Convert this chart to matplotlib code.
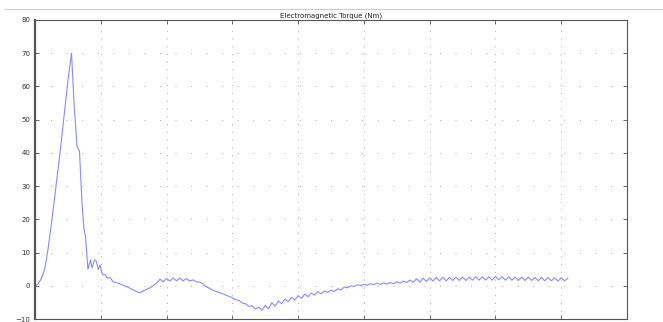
import numpy as np
import matplotlib.pyplot as plt
from matplotlib.lines import Line2D

# start-up transient (time in s, torque in Nm)
t_start = [0.0, 0.0046, 0.0091, 0.0122, 0.0152, 0.0198, 0.0258, 0.0319, 0.038,
           0.0441, 0.0502, 0.0555, 0.0593, 0.0638, 0.0676, 0.0714, 0.0745, 0.0767,
           0.0805, 0.0844, 0.0866, 0.0904, 0.0935, 0.0962, 0.0988, 0.1014, 0.1033,
           0.1071, 0.1094, 0.1147, 0.1185, 0.1246, 0.1398, 0.155, 0.1596, 0.1641,
           0.1748, 0.1854]
T_start = [0.0, 0.5, 2.0, 3.5, 5.5, 11.0, 20.0, 30.0, 40.0,
           51.0, 62.0, 70.0, 55.0, 42.0, 40.5, 25.0, 17.0, 15.0,
           5.0, 7.8, 5.4, 7.8, 7.3, 4.8, 6.3, 4.2, 3.3,
           3.3, 2.4, 2.4, 1.2, 0.9, -0.3, -1.8, -2.1, -1.6,
           -0.6, 0.9]

# ripple part, sampled every 5 ms from 0.19 s
t0_ripple = 0.19
dt_ripple = 0.005
T_ripple = [2.0, 1.2, 2.2, 1.4, 2.3, 1.5, 2.3, 1.5, 2.2, 1.4,
            1.8, 1.2, 1.1, 0.7, -0.3, -0.7, -1.3, -1.7, -2.0, -2.4,
            -2.8, -3.2, -3.6, -4.2, -4.4, -5.2, -5.4, -6.2, -6.0, -7.0,
            -6.4, -7.4, -5.9, -6.9, -5.1, -6.1, -4.6, -5.4, -4.0, -4.8,
            -3.5, -4.3, -3.0, -3.8, -2.5, -3.3, -2.2, -2.8, -1.8, -2.4,
            -1.6, -2.0, -1.3, -1.7, -0.9, -1.3, -0.4, -0.6, 0.0, -0.2,
            0.3, 0.1, 0.4, 0.2, 0.6, 0.4, 0.8, 0.4, 0.9, 0.5,
            1.0, 0.6, 1.2, 0.8, 1.4, 1.0, 1.7, 1.1, 2.1, 1.1,
            2.3, 1.3, 2.4, 1.4, 2.5, 1.5, 2.5, 1.5, 2.5, 1.6,
            2.6, 1.6, 2.6, 1.6, 2.6, 1.7, 2.7, 1.7, 2.7, 1.7,
            2.7, 1.7, 2.8, 1.8, 2.7, 1.7, 2.7, 1.7, 2.6, 1.6,
            2.6, 1.6, 2.6, 1.6, 2.5, 1.5, 2.5, 1.5, 2.5, 1.5,
            2.4, 1.4, 2.4, 1.5, 2.2]
t_ripple = t0_ripple + dt_ripple * np.arange(len(T_ripple))

t = np.concatenate([t_start, t_ripple])
T = np.concatenate([T_start, T_ripple])

fig = plt.figure(figsize=(6.63, 3.22), dpi=100)
ax = fig.add_axes([0.0528, 0.0093, 0.8929, 0.9286])

ax.plot(t, T, color='#8a8aff', lw=0.8)

ax.set_xlim(0, 0.9)
ax.set_ylim(-10, 80)
ax.set_xticks(np.arange(0.1, 0.9, 0.1))
ax.set_xticklabels([])
ax.set_yticks(np.arange(-10, 81, 10))
ax.tick_params(direction='in', length=3, width=0.6, colors='#555555',
               labelsize=5, labelcolor='#333333', top=True, right=True)

ax.xaxis.grid(True, color='#aaaaaa', lw=0.7, ls=(0, (1, 7)))
ax.yaxis.grid(True, color='#aaaaaa', lw=0.7, ls=(0, (1, 15)))

for s in ax.spines.values():
    s.set_color('#555555')
    s.set_linewidth(0.8)
ax.spines['left'].set_linewidth(1.6)

ax.set_title('Electromagnetic Torque (Nm)', fontsize=5, color='#222222', pad=2)

# thin window border at the top of the screenshot
fig.add_artist(Line2D([0.008, 1.0], [0.972, 0.972], color='#cccccc', lw=0.8))

fig.savefig('out.png', dpi=100)
